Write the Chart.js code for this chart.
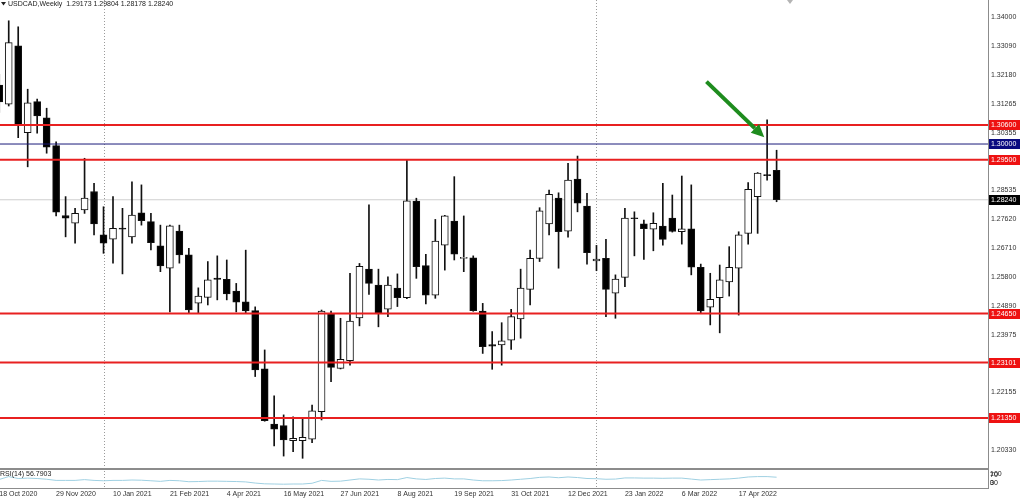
<!DOCTYPE html>
<html>
<head>
<meta charset="utf-8">
<script src="https://cdn.jsdelivr.net/npm/chart.js@4.4.1/dist/chart.umd.min.js"></script>
<style>
  html, body { margin: 0; padding: 0; background: #fff; }
</style>
</head>
<body>
<canvas id="usdcadChart" width="1024" height="500"></canvas>
<script>
// weekly USDCAD candles, index 0 = week of 18 Oct 2020
const dateLabels = ['18 Oct 2020', '29 Nov 2020', '10 Jan 2021', '21 Feb 2021', '4 Apr 2021', '16 May 2021', '27 Jun 2021',
  '8 Aug 2021', '19 Sep 2021', '31 Oct 2021', '12 Dec 2021', '23 Jan 2022', '6 Mar 2022', '17 Apr 2022'];
const dateIdx = [0, 6, 12, 18, 24, 30, 36, 42, 48, 54, 60, 66, 72, 78];

const opens = [
  1.3186, 1.3126, 1.3310, 1.3036, 1.3134, 1.3083, 1.2995, 1.2774, 1.2750, 1.2792,
  1.2850, 1.2713, 1.2700, 1.2735, 1.2707, 1.2783, 1.2755, 1.2679, 1.2608, 1.2725,
  1.2650, 1.2498, 1.2516, 1.2577, 1.2573, 1.2536, 1.2502, 1.2474, 1.2290, 1.2116,
  1.2111, 1.2064, 1.2064, 1.2068, 1.2155, 1.2463, 1.2292, 1.2316, 1.2451, 1.2605,
  1.2555, 1.2479, 1.2545, 1.2515, 1.2820, 1.2616, 1.2523, 1.2681, 1.2757, 1.2639,
  1.2641, 1.2473, 1.2367, 1.2366, 1.2381, 1.2448, 1.2541, 1.2639, 1.2748, 1.2829,
  1.2725, 1.2889, 1.2804, 1.2631, 1.2639, 1.2529, 1.2579, 1.2767, 1.2748, 1.2731,
  1.2741, 1.2766, 1.2723, 1.2732, 1.2611, 1.2485, 1.2515, 1.2565, 1.2608, 1.2718,
  1.2834, 1.2903, 1.29173];
const highs = [
  1.3220, 1.3389, 1.3370, 1.3173, 1.3142, 1.3113, 1.3007, 1.2834, 1.2797, 1.2955,
  1.2876, 1.2802, 1.2834, 1.2797, 1.2881, 1.2871, 1.2781, 1.2744, 1.2744, 1.2744,
  1.2671, 1.2546, 1.2629, 1.2647, 1.2634, 1.2560, 1.2665, 1.2486, 1.2350, 1.2205,
  1.2145, 1.2139, 1.2134, 1.2176, 1.2476, 1.2473, 1.2450, 1.2592, 1.2623, 1.2808,
  1.2605, 1.2581, 1.2590, 1.2950, 1.2829, 1.2652, 1.2762, 1.2775, 1.2897, 1.2773,
  1.2647, 1.2497, 1.2408, 1.2436, 1.2478, 1.2605, 1.2665, 1.2799, 1.2855, 1.2846,
  1.2939, 1.2962, 1.2844, 1.2680, 1.2699, 1.2587, 1.2797, 1.2786, 1.2760, 1.2783,
  1.2876, 1.2839, 1.2899, 1.2871, 1.2621, 1.2592, 1.2618, 1.2676, 1.2723, 1.2878,
  1.2910, 1.3076, 1.29804];
const lows = [
  1.3100, 1.3120, 1.3020, 1.2928, 1.3034, 1.2971, 1.2773, 1.2707, 1.2687, 1.2781,
  1.2713, 1.2655, 1.2624, 1.2590, 1.2687, 1.2744, 1.2666, 1.2597, 1.2470, 1.2624,
  1.2465, 1.2467, 1.2492, 1.2508, 1.2508, 1.2470, 1.2467, 1.2266, 1.2125, 1.2047,
  1.2015, 1.2029, 1.2008, 1.2057, 1.2129, 1.2250, 1.2290, 1.2302, 1.2426, 1.2525,
  1.2423, 1.2455, 1.2487, 1.2512, 1.2576, 1.2495, 1.2513, 1.2602, 1.2634, 1.2597,
  1.2472, 1.2339, 1.2289, 1.2302, 1.2352, 1.2387, 1.2492, 1.2629, 1.2713, 1.2608,
  1.2706, 1.2786, 1.2621, 1.2600, 1.2455, 1.2450, 1.2550, 1.2647, 1.2636, 1.2663,
  1.2681, 1.2722, 1.2684, 1.2587, 1.2466, 1.2429, 1.2404, 1.2520, 1.2460, 1.2684,
  1.2718, 1.2886, 1.28178];
const closes = [
  1.3133, 1.3320, 1.3060, 1.3130, 1.3089, 1.2990, 1.2785, 1.2766, 1.2781, 1.2829,
  1.2748, 1.2687, 1.2734, 1.2731, 1.2776, 1.2758, 1.2689, 1.2615, 1.2742, 1.2650,
  1.2476, 1.2520, 1.2571, 1.2573, 1.2527, 1.2501, 1.2473, 1.2287, 1.2127, 1.2100,
  1.2066, 1.2071, 1.2074, 1.2158, 1.2473, 1.2295, 1.2320, 1.2441, 1.2614, 1.2560,
  1.2466, 1.2555, 1.2515, 1.2821, 1.2613, 1.2523, 1.2694, 1.2773, 1.2652, 1.2642,
  1.2474, 1.2360, 1.2362, 1.2379, 1.2455, 1.2545, 1.2639, 1.2789, 1.2841, 1.2723,
  1.2886, 1.2813, 1.2657, 1.2637, 1.2541, 1.2574, 1.2766, 1.2764, 1.2733, 1.2750,
  1.2699, 1.2724, 1.2732, 1.2611, 1.2473, 1.2510, 1.2571, 1.2611, 1.2713, 1.2857,
  1.2908, 1.2900, 1.28240];
const rsiValues = [
  45, 60, 50, 52, 50, 46, 40, 40, 40, 44,
  40, 38, 40, 40, 42, 41, 38, 35, 40, 38,
  33, 34, 36, 36, 35, 34, 32, 26, 22, 21,
  20, 21, 21, 25, 40, 35, 36, 42, 48, 46,
  42, 45, 44, 55, 48, 45, 50, 52, 48, 48,
  42, 38, 38, 39, 42, 46, 50, 56, 58, 54,
  58, 55, 50, 49, 46, 47, 53, 53, 52, 52,
  51, 52, 52, 47, 42, 44, 46, 48, 52, 58,
  60, 60, 56.79];

const priceTicks = [1.34, 1.3309, 1.3218, 1.31265, 1.30355, 1.28535, 1.2762, 1.2671, 1.258, 1.2489, 1.23975, 1.22155, 1.2033];
const redLevels = [1.306, 1.295, 1.2465, 1.23101, 1.2135];
const blueLevel = 1.30;
const lastPrice = 1.2824;
const yearStarts = [11, 63];
const shiftMark = 83.4;
const arrowFrom = [74.6, 1.3197];
const arrowTo = [80.7, 1.3021];

const yMin = 1.19742, yMax = 1.34546;
const xMin = 0.08, xMax = 104.3;
const FONT = 'Liberation Sans, Arial, sans-serif';

const idx = opens.map((_, i) => i);
const up = i => closes[i] >= opens[i];

function level(v, color, width, order) {
  return {
    type: 'line', yAxisID: 'y', order: order,
    data: [{x: xMin, y: v}, {x: xMax, y: v}],
    borderColor: color, borderWidth: width, pointRadius: 0
  };
}

function priceBox(ctx, y, bg, text) {
  ctx.fillStyle = bg;
  ctx.fillRect(989, Math.round(y) - 5, 31, 10);
  ctx.fillStyle = '#fff';
  ctx.fillText(text, 991, Math.round(y) + 0.5);
}

const overlay = {
  id: 'overlay',
  beforeDatasetsDraw(chart) {
    const {ctx, chartArea: ca, scales: {x}} = chart;
    ctx.save();
    ctx.strokeStyle = '#9a9a9a';
    ctx.lineWidth = 1;
    ctx.setLineDash([1, 2]);
    yearStarts.forEach(i => {
      const px = Math.round(x.getPixelForValue(i)) + 0.5;
      ctx.beginPath();
      ctx.moveTo(px, ca.top);
      ctx.lineTo(px, ca.bottom);
      ctx.stroke();
    });
    ctx.restore();
  },
  afterDatasetsDraw(chart) {
    const {ctx, scales: {x, y}} = chart;
    const x0 = x.getPixelForValue(arrowFrom[0]), y0 = y.getPixelForValue(arrowFrom[1]);
    const x1 = x.getPixelForValue(arrowTo[0]), y1 = y.getPixelForValue(arrowTo[1]);
    const a = Math.atan2(y1 - y0, x1 - x0);
    const hl = 13, hw = 6;
    const bx = x1 - hl * Math.cos(a), by = y1 - hl * Math.sin(a);
    ctx.save();
    ctx.strokeStyle = '#1e8c1e';
    ctx.fillStyle = '#1e8c1e';
    ctx.lineWidth = 4;
    ctx.beginPath();
    ctx.moveTo(x0, y0);
    ctx.lineTo(bx, by);
    ctx.stroke();
    ctx.beginPath();
    ctx.moveTo(x1, y1);
    ctx.lineTo(bx + hw * Math.sin(a), by - hw * Math.cos(a));
    ctx.lineTo(bx - hw * Math.sin(a), by + hw * Math.cos(a));
    ctx.closePath();
    ctx.fill();

    // chart shift marker at the top edge
    const sx = Math.round(x.getPixelForValue(shiftMark));
    ctx.fillStyle = '#b4b4b4';
    ctx.beginPath();
    ctx.moveTo(sx - 3, 0); ctx.lineTo(sx + 3, 0); ctx.lineTo(sx, 4); ctx.closePath();
    ctx.fill();
    ctx.restore();
  },
  afterDraw(chart) {
    const {ctx, chartArea: ca, scales: {y, yr}} = chart;
    ctx.save();
    // pane frames
    ctx.strokeStyle = '#8c8c8c';
    ctx.lineWidth = 1;
    ctx.beginPath();
    ctx.moveTo(ca.right + 0.5, 0);
    ctx.lineTo(ca.right + 0.5, ca.bottom + 1);
    ctx.moveTo(0, ca.bottom + 0.5);
    ctx.lineTo(ca.right, ca.bottom + 0.5);
    ctx.stroke();
    ctx.lineWidth = 2;
    ctx.beginPath();
    ctx.moveTo(0, Math.round(y.bottom));
    ctx.lineTo(ca.right, Math.round(y.bottom));
    ctx.stroke();

    ctx.font = '7px ' + FONT;
    ctx.textBaseline = 'middle';
    ctx.textAlign = 'left';

    // title
    ctx.fillStyle = '#222';
    ctx.beginPath();
    ctx.moveTo(1, 2); ctx.lineTo(6, 2); ctx.lineTo(3.5, 5.5); ctx.closePath();
    ctx.fill();
    ctx.fillText('USDCAD,Weekly  1.29173 1.29804 1.28178 1.28240', 8, 4.5);

    // rsi pane texts
    ctx.fillText('RSI(14) 56.7903', 0, yr.top + 5.5);
    ctx.fillText('100', 990, yr.top + 5.5);
    ctx.fillText('70', 990, yr.top + 6);
    ctx.fillText('0', 990, yr.top + 14.5);
    ctx.fillText('30', 990, yr.top + 14.5);

    // price labels on the axis
    redLevels.forEach(v => priceBox(ctx, y.getPixelForValue(v), '#ee1111', v.toFixed(5)));
    priceBox(ctx, y.getPixelForValue(blueLevel), '#0a0a80', blueLevel.toFixed(5));
    priceBox(ctx, y.getPixelForValue(lastPrice), '#000', lastPrice.toFixed(5));
    ctx.restore();
  }
};

const ctx = document.getElementById('usdcadChart').getContext('2d');
const usdcadChart = new Chart(ctx, {
  type: 'bar',
  data: {
    datasets: [
      level(lastPrice, '#cfcfcf', 1, 5),
      {
        label: 'wick', yAxisID: 'y', order: 3, grouped: false,
        data: idx.map(i => ({x: i, y: [lows[i], highs[i]]})),
        backgroundColor: '#111', borderWidth: 0, barThickness: 1
      },
      {
        label: 'body', yAxisID: 'y', order: 2, grouped: false,
        data: idx.map(i => ({x: i, y: [opens[i], closes[i]]})),
        backgroundColor: idx.map(i => up(i) ? '#ffffff' : '#000000'),
        borderColor: '#111', borderWidth: 1, borderSkipped: false,
        barThickness: 7, minBarLength: 1
      },
      ...redLevels.map(v => level(v, '#e82020', 2, 1)),
      level(blueLevel, '#1a1a7a', 1, 1),
      {
        type: 'line', label: 'RSI', yAxisID: 'yr', order: 1,
        data: idx.map(i => ({x: i, y: rsiValues[i]})),
        borderColor: '#9fd0e2', borderWidth: 1, pointRadius: 0
      }
    ]
  },
  options: {
    responsive: false,
    animation: false,
    layout: {padding: 0},
    plugins: {legend: {display: false}, tooltip: {enabled: false}},
    scales: {
      x: {
        type: 'linear', min: xMin, max: xMax, offset: false, bounds: 'data',
        grid: {display: false, drawTicks: false},
        border: {display: false},
        afterBuildTicks: s => { s.ticks = dateIdx.map(v => ({value: v})); },
        afterFit: s => { s.height = 12; s.paddingLeft = 0; s.paddingRight = 0; },
        ticks: {
          autoSkip: false, maxRotation: 0, align: 'start', padding: 2,
          color: '#333', font: {family: FONT, size: 7},
          callback: v => dateLabels[dateIdx.indexOf(v)]
        }
      },
      y: {
        position: 'right', stack: 'panes', stackWeight: 469,
        min: yMin, max: yMax,
        grid: {display: false, drawTicks: false},
        border: {display: false},
        afterBuildTicks: s => { s.ticks = priceTicks.map(v => ({value: v})); },
        afterFit: s => { s.width = 36; s.paddingTop = 0; s.paddingBottom = 0; },
        ticks: {
          autoSkip: false, padding: 3, color: '#333', font: {family: FONT, size: 7},
          callback: v => v.toFixed(5)
        }
      },
      yr: {
        position: 'right', stack: 'panes', stackWeight: 19,
        min: 0, max: 100,
        grid: {display: false},
        border: {display: false},
        ticks: {display: false},
        afterFit: s => { s.width = 36; s.paddingTop = 0; s.paddingBottom = 0; }
      }
    }
  },
  plugins: [overlay]
});
</script>
</body>
</html>
